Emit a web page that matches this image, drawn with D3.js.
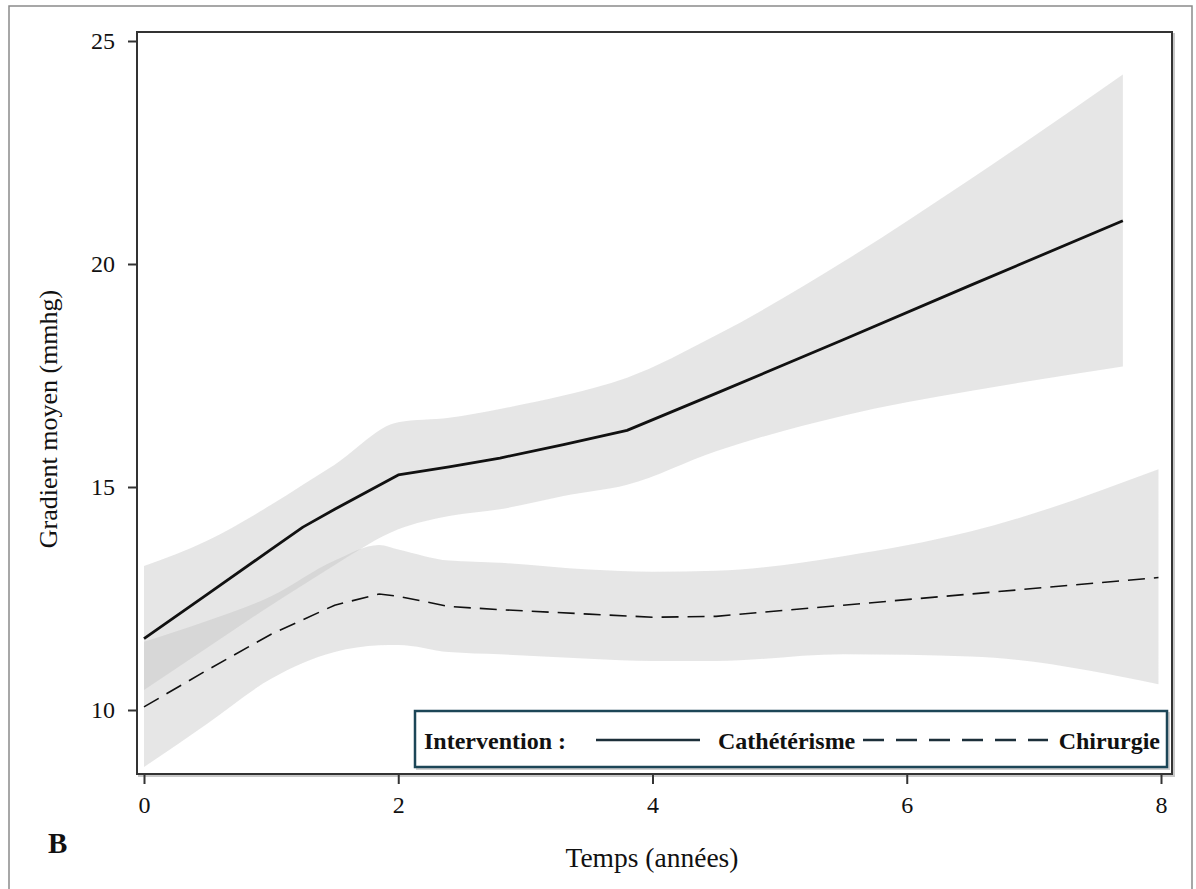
<!DOCTYPE html>
<html><head><meta charset="utf-8">
<script src="https://cdn.jsdelivr.net/npm/d3@7"></script>
<style>body{margin:0;background:#fff;} svg{display:block;}</style>
</head><body>
<svg id="c" width="1196" height="889"></svg>
<script>
// Data
const cathYears = [0, 0.5, 1.0, 1.25, 1.5, 2.0, 2.4, 2.8, 3.3, 3.8, 4.5, 5.5, 6.5, 7.7];
const cathMean  = [11.6, 12.6, 13.6, 14.1, 14.5, 15.27, 15.45, 15.65, 15.95, 16.27, 17.1, 18.3, 19.52, 20.97];
const cathUpper = [13.23, 13.8, 14.6, 15.05, 15.5, 16.45, 16.55, 16.75, 17.05, 17.45, 18.4, 20.05, 21.9, 24.25];
const cathLower = [10.45, 11.4, 12.35, 12.8, 13.25, 14.05, 14.35, 14.5, 14.8, 15.05, 15.8, 16.6, 17.15, 17.7];

const chirYears = [0, 0.5, 1.0, 1.5, 1.85, 2.0, 2.4, 2.8, 3.5, 4.0, 4.5, 5.5, 6.5, 7.98];
const chirMean  = [10.07, 10.9, 11.7, 12.35, 12.6, 12.55, 12.32, 12.25, 12.15, 12.08, 12.1, 12.35, 12.6, 12.97];
const chirUpper = [11.53, 12.0, 12.55, 13.35, 13.7, 13.6, 13.35, 13.3, 13.15, 13.1, 13.12, 13.45, 14.0, 15.4];
const chirLower = [8.72, 9.7, 10.7, 11.3, 11.45, 11.46, 11.3, 11.25, 11.15, 11.1, 11.1, 11.25, 11.2, 10.58];

const xTicks = [0, 2, 4, 6, 8];
const yTicks = [10, 15, 20, 25];
const legendLabels = ["Cathétérisme", "Chirurgie"];

const svg = d3.select("#c");
const font = "'Liberation Serif','Times New Roman',serif";

const x = d3.scaleLinear().domain([0, 8]).range([144, 1161]);
const y = d3.scaleLinear().domain([10, 25]).range([710, 41]);
const L = 137, R = 1172, T = 32, B = 774;

// outer frame
svg.append("rect").attr("x", 9).attr("y", 6).attr("width", 1183).attr("height", 900)
  .attr("fill", "none").attr("stroke", "#8a8a8a").attr("stroke-width", 1.5);

// plot frame shadow
svg.append("rect").attr("x", L + 2).attr("y", T + 2).attr("width", R - L).attr("height", B - T)
  .attr("fill", "none").attr("stroke", "#c8c8c8").attr("stroke-width", 2);
svg.append("rect").attr("x", L).attr("y", T).attr("width", R - L).attr("height", B - T)
  .attr("fill", "#fff").attr("stroke", "none");

const toRows = (ys, m, u, l) => ys.map((t, i) => ({t, m: m[i], u: u[i], l: l[i]}));
const cath = toRows(cathYears, cathMean, cathUpper, cathLower);
const chir = toRows(chirYears, chirMean, chirUpper, chirLower);

const area = d3.area().x(d => x(d.t)).y0(d => y(d.l)).y1(d => y(d.u)).curve(d3.curveMonotoneX);
const line = d3.line().x(d => x(d.t)).y(d => y(d.m)).curve(d3.curveLinear);

const g = svg.append("g");
g.append("path").datum(chir).attr("d", area).attr("fill", "#c0c0c0").attr("fill-opacity", 0.4);
g.append("path").datum(cath).attr("d", area).attr("fill", "#c0c0c0").attr("fill-opacity", 0.4);
g.append("path").datum(chir).attr("d", line).attr("fill", "none").attr("stroke", "#111")
  .attr("stroke-width", 1.6).attr("stroke-dasharray", "17,9");
g.append("path").datum(cath).attr("d", line).attr("fill", "none").attr("stroke", "#111")
  .attr("stroke-width", 2.8).attr("stroke-linejoin", "round");

// frame
svg.append("rect").attr("x", L).attr("y", T).attr("width", R - L).attr("height", B - T)
  .attr("fill", "none").attr("stroke", "#333").attr("stroke-width", 2);

// axes
const yAxis = d3.axisLeft(y).tickValues(yTicks).tickSize(9).tickPadding(13);
const ya = svg.append("g").attr("transform", `translate(${L},0)`).call(yAxis);
const xAxis = d3.axisBottom(x).tickValues(xTicks).tickSize(10).tickPadding(12);
const xa = svg.append("g").attr("transform", `translate(0,${B})`).call(xAxis);
[ya, xa].forEach(a => {
  a.select(".domain").remove();
  a.selectAll(".tick line").attr("stroke", "#333").attr("stroke-width", 2);
  a.selectAll(".tick text").attr("fill", "#111").style("font-family", font).style("font-size", "24px");
});

// titles
svg.append("text").attr("x", 652).attr("y", 867).attr("text-anchor", "middle")
  .style("font-family", font).style("font-size", "27.5px").attr("fill", "#111").text("Temps (années)");
svg.append("text").attr("transform", "translate(57,419) rotate(-90)").attr("text-anchor", "middle")
  .style("font-family", font).style("font-size", "26px").attr("fill", "#111").text("Gradient moyen (mmhg)");
svg.append("text").attr("x", 48).attr("y", 853)
  .style("font-family", font).style("font-size", "29px").style("font-weight", "bold").attr("fill", "#111").text("B");

// legend
const lg = svg.append("g");
lg.append("rect").attr("x", 417).attr("y", 713).attr("width", 752).attr("height", 56)
  .attr("fill", "none").attr("stroke", "#d0d0d0").attr("stroke-width", 2);
lg.append("rect").attr("x", 415).attr("y", 711).attr("width", 752).attr("height", 56)
  .attr("fill", "#fff").attr("stroke", "#1c4657").attr("stroke-width", 2.5);
const lt = (tx, s, anchor) => lg.append("text").attr("x", tx).attr("y", 749).attr("text-anchor", anchor || "start")
  .style("font-family", font).style("font-size", "24px").style("font-weight", "bold").attr("fill", "#111").text(s);
lt(424, "Intervention :");
lg.append("line").attr("x1", 596).attr("x2", 700).attr("y1", 740).attr("y2", 740)
  .attr("stroke", "#1c2f3a").attr("stroke-width", 2.5);
lt(718, legendLabels[0]);
lg.append("line").attr("x1", 863).attr("x2", 1048).attr("y1", 740).attr("y2", 740)
  .attr("stroke", "#1c2f3a").attr("stroke-width", 2.5).attr("stroke-dasharray", "21,12");
lt(1160, legendLabels[1], "end");
</script>
</body></html>
